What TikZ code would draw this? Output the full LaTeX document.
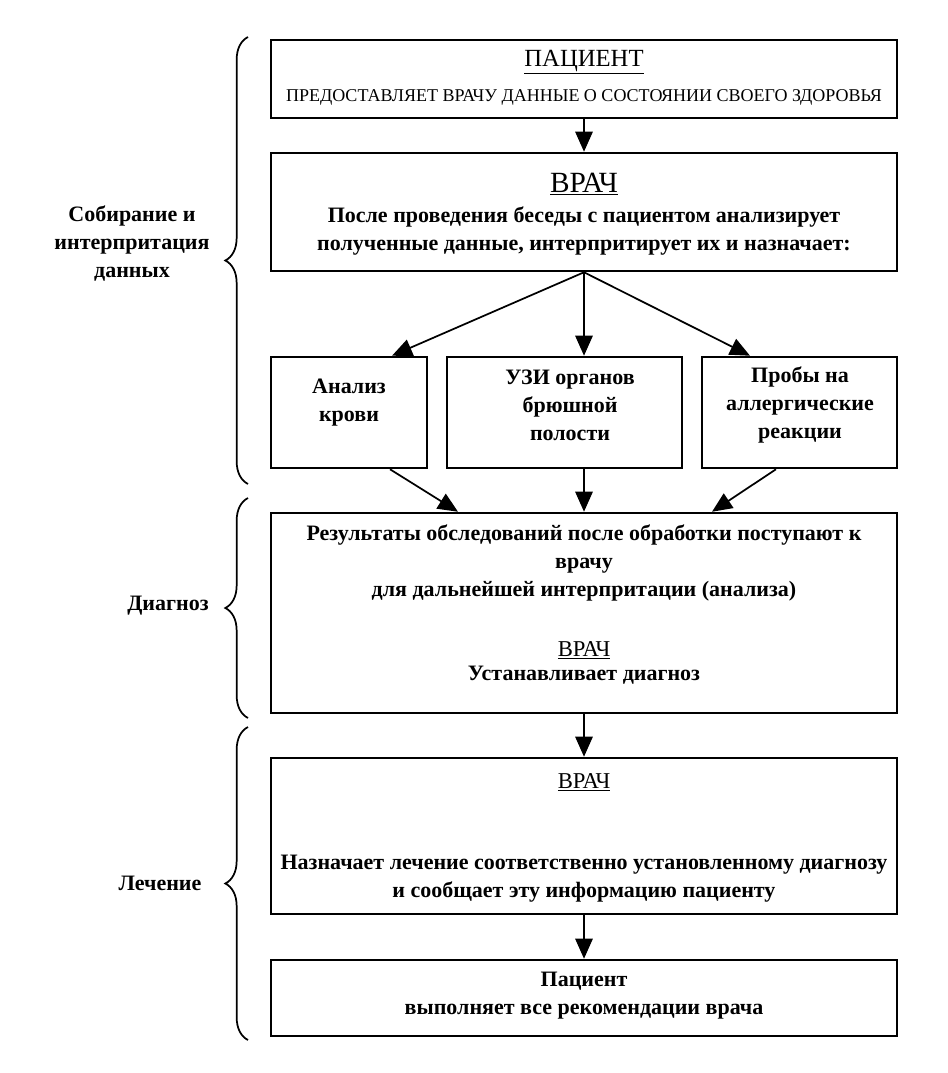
\documentclass[tikz,border=0pt]{standalone}
\usepackage{fontspec}
\setmainfont{Liberation Serif}
\usetikzlibrary{arrows.meta,calc,decorations.pathreplacing}
\newdimen\pxu
\pxu=0.75pt

\begin{document}
\begin{tikzpicture}[
	x = 0.75pt, y = -0.75pt,
	box/.style = {draw, line width = 1.9pt, inner sep = 0pt},
	txt/.style = {font = \bfseries\fontsize{16.5}{21}\selectfont, align = center, inner sep = 0pt},
	hdr/.style = {font = \fontsize{17}{20}\selectfont, inner sep = 0pt},
	arr/.style = {line width = 1.3pt, -{Triangle[length = 15pt, width = 13pt]}},
	brc/.style = {decorate, decoration = {brace, amplitude = 17pt}, line width = 1.3pt}]

	\fill[white] (0,0) rectangle (947,1073);
	\useasboundingbox (0,0) rectangle (947,1073);

	\node[box, minimum width = 626\pxu, minimum height = 78\pxu] (patient) at (584,79) {};
	\node[box, minimum width = 626\pxu, minimum height = 118\pxu] (doctor) at (584,212) {};
	\node[box, minimum width = 156\pxu, minimum height = 111\pxu] (blood) at (349,412.5) {};
	\node[box, minimum width = 235\pxu, minimum height = 111\pxu] (usi) at (564.5,412.5) {};
	\node[box, minimum width = 195\pxu, minimum height = 111\pxu] (allergy) at (799.5,412.5) {};
	\node[box, minimum width = 626\pxu, minimum height = 200\pxu] (results) at (584,613) {};
	\node[box, minimum width = 626\pxu, minimum height = 156\pxu] (treatment) at (584,836) {};
	\node[box, minimum width = 626\pxu, minimum height = 76\pxu] (follow) at (584,998) {};

	\node[hdr, font = \fontsize{18.5}{22}\selectfont] (patientH) at (584,62) {\underline{ПАЦИЕНТ}};
	\node[hdr, font = \fontsize{13.5}{16}\selectfont] (patientT) at (584,97) {ПРЕДОСТАВЛЯЕТ ВРАЧУ ДАННЫЕ О СОСТОЯНИИ СВОЕГО ЗДОРОВЬЯ};
	\node[hdr, font = \fontsize{22}{26}\selectfont] (doctorH) at (584,184) {\underline{ВРАЧ}};
	\node[txt] (doctorT) at (584,231) {После проведения беседы с пациентом анализирует\\полученные данные, интерпритирует их и назначает:};
	\node[txt] (bloodT) at (349,402.5) {Анализ\\крови};
	\node[txt] (usiT) at (570,405) {УЗИ органов\\брюшной\\полости};
	\node[txt] (allergyT) at (800,405) {Пробы на\\аллергические\\реакции};
	\node[txt] (resultsT) at (584,563) {Результаты обследований после обработки поступают к\\врачу\\для дальнейшей интерпритации (анализа)};
	\node[hdr] (resultsH) at (584,650) {\underline{ВРАЧ}};
	\node[txt] (resultsD) at (584,675) {Устанавливает диагноз};
	\node[hdr] (treatmentH) at (584,782) {\underline{ВРАЧ}};
	\node[txt] (treatmentT) at (584,879) {Назначает лечение соответственно установленному диагнозу\\и сообщает эту информацию пациенту};
	\node[txt] (followT) at (584,996) {Пациент\\выполняет все рекомендации врача};

	\node[txt] (collectL) at (132,244) {Собирание и\\интерпритация\\данных};
	\node[txt] (diagnosisL) at (168,606) {Диагноз};
	\node[txt] (treatmentL) at (160,883) {Лечение};

	\draw[brc] (248,484) -- (248,37);
	\draw[brc] (248,718) -- (248,498);
	\draw[brc] (248,1040) -- (248,727);

	\draw[arr] (patient) -- (doctor);
	\draw[arr] (doctor.south) -- ($(blood.north)+(43,0)$);
	\draw[arr] (doctor.south) -- ($(usi.north)+(19.5,0)$);
	\draw[arr] (doctor.south) -- ($(allergy.north)+(-49.5,0)$);
	\draw[arr] ($(blood.south)+(41,0)$) -- ($(results.north)+(-126,0)$);
	\draw[arr] ($(usi.south)+(19.5,0)$) -- (results.north);
	\draw[arr] ($(allergy.south)+(-23.5,0)$) -- ($(results.north)+(128,0)$);
	\draw[arr] (results) -- (treatment);
	\draw[arr] (treatment) -- (follow);

\end{tikzpicture}
\end{document}
